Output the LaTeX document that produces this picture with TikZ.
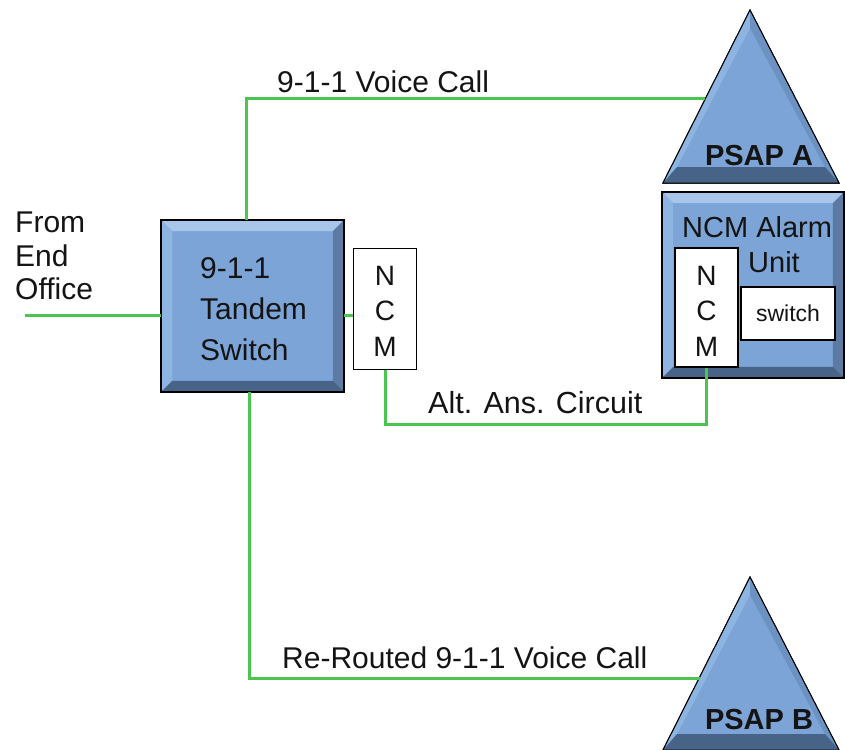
\documentclass[tikz,border=0pt]{standalone}
\usepackage{fontspec}
\setmainfont{Liberation Sans}
\usetikzlibrary{calc}
\definecolor{bmain}{RGB}{124,164,214}
\definecolor{blight}{RGB}{168,198,234}
\definecolor{bleft}{RGB}{142,180,226}
\definecolor{bdark}{RGB}{92,122,162}
\definecolor{bside}{RGB}{108,146,194}
\definecolor{bdarker}{RGB}{72,99,136}
\definecolor{wire}{RGB}{76,196,80}
\definecolor{ink}{RGB}{20,20,20}
\tikzset{
  box/.style={draw=black, line width=1.6pt, fill=bmain, inner sep=0pt},
  whitebox/.style={draw=black, line width=1.4pt, fill=white, inner sep=0pt},
  wireline/.style={draw=wire, line width=3pt},
  lbl/.style={inner sep=0pt, text=ink, font=\fontsize{30}{41}\selectfont},
  tri/.style={draw=black, line width=1pt, fill=bmain},
}
\newcommand{\bevelbox}[2]{%
  \fill[blight] (#1.north west) -- (#1.north east) -- ($(#1.north east)+(-#2,#2)$) -- ($(#1.north west)+(#2,#2)$) -- cycle;
  \fill[bleft] (#1.north west) -- ($(#1.north west)+(#2,#2)$) -- ($(#1.south west)+(#2,-#2)$) -- (#1.south west) -- cycle;
  \fill[bdark] (#1.north east) -- (#1.south east) -- ($(#1.south east)+(-#2,-#2)$) -- ($(#1.north east)+(-#2,#2)$) -- cycle;
  \fill[bdarker] (#1.south west) -- (#1.south east) -- ($(#1.south east)+(-#2,-#2)$) -- ($(#1.south west)+(#2,-#2)$) -- cycle;
  \draw[black, line width=1.6pt] (#1.north west) rectangle (#1.south east);
}
\newcommand{\psap}[2]{% #1 = name prefix, #2 = y offset of apex
  \coordinate (#1top) at (750,#2);
  \coordinate (#1bl) at (663,#2+173);
  \coordinate (#1br) at (839,#2+173);
  \path[tri] (#1top) -- (#1bl) -- (#1br) -- cycle;
  \fill[bleft] (#1top) -- (#1bl) -- ($(#1bl)+(14,-16)$) -- ($(#1top)+(0,18)$) -- cycle;
  \fill[bside] (#1top) -- (#1br) -- ($(#1br)+(-14,-16)$) -- ($(#1top)+(0,18)$) -- cycle;
  \fill[bdarker] (#1bl) -- (#1br) -- ($(#1br)+(-14,-16)$) -- ($(#1bl)+(14,-16)$) -- cycle;
  \draw[black, line width=1pt] (#1top) -- (#1bl) -- (#1br) -- cycle;
}
\begin{document}
\begin{tikzpicture}[x=1pt, y=-1pt]
\useasboundingbox (0,0) rectangle (845,749);
\fill[white] (0,0) rectangle (845,749);

% PSAP triangles
\psap{pa}{10}
\psap{pb}{577}
\node[lbl, font=\fontsize{29}{30}\selectfont\bfseries, anchor=base] (psapA) at (759,165) {PSAP A};
\node[lbl, font=\fontsize{29}{30}\selectfont\bfseries, anchor=base] (psapB) at (759,729) {PSAP B};

% Tandem switch
\node[box, minimum width=181pt, minimum height=170pt] (tandem) at (252.5,306) {};
\bevelbox{tandem}{11}
\node[lbl, align=left, anchor=north west] (tandemtxt) at (200,257) {9-1-1\\Tandem\\Switch};

% NCM at tandem
\node[whitebox, minimum width=63pt, minimum height=121pt] (ncm1) at (385,309) {};
\node[lbl, align=center, font=\fontsize{28}{35.5}\selectfont, anchor=north] (ncm1txt) at (385,266) {N\\C\\M};

% From End Office
\node[lbl, align=left, anchor=north west, font=\fontsize{30}{33.5}\selectfont] (fromeo) at (15,212) {From\\End\\Office};

% NCM Alarm Unit
\node[box, minimum width=180pt, minimum height=184pt] (alarm) at (753,285) {};
\bevelbox{alarm}{11}
\node[lbl, anchor=base west, font=\fontsize{29}{30}\selectfont] (alarmtxt) at (682,237) {NCM Alarm};
\node[lbl, anchor=base west, font=\fontsize{29}{30}\selectfont] (unittxt) at (748,272) {Unit};
\node[whitebox, minimum width=63pt, minimum height=119pt] (ncm2) at (706.5,307.5) {};
\node[lbl, align=center, font=\fontsize{28}{35.5}\selectfont, anchor=north] (ncm2txt) at (706.5,266) {N\\C\\M};
\node[whitebox, minimum width=94pt, minimum height=53pt, font=\fontsize{23}{24}\selectfont, text=ink] (switch) at (788,313.5) {switch};

% Connectors
\coordinate (fe) at (25,315);
\coordinate (vA) at (705,99);
\coordinate (vB) at (700,678);
\coordinate (altlow) at (0,424);
\draw[wireline] (fe) -- (fe -| tandem.west);
\draw[wireline] (fe -| tandem.east) -- (fe -| ncm1.west);
\draw[wireline] ($(tandem.north west)+(85,0)$) |- (vA);
\draw[wireline] ($(tandem.south west)+(88,0)$) |- (vB);
\draw[wireline] (ncm1.south) |- (altlow -| ncm2.south) -- (ncm2.south);

% Labels
\node[lbl, anchor=base west] (vclbl) at (277,93) {9-1-1 Voice Call};
\node[lbl, anchor=base west, font=\fontsize{30.5}{41}\selectfont] (altlbl) at (428,413) {Alt. Ans. Circuit};
\node[lbl, anchor=base west] (rrlbl) at (282,668) {Re-Routed 9-1-1 Voice Call};
\end{tikzpicture}
\end{document}
